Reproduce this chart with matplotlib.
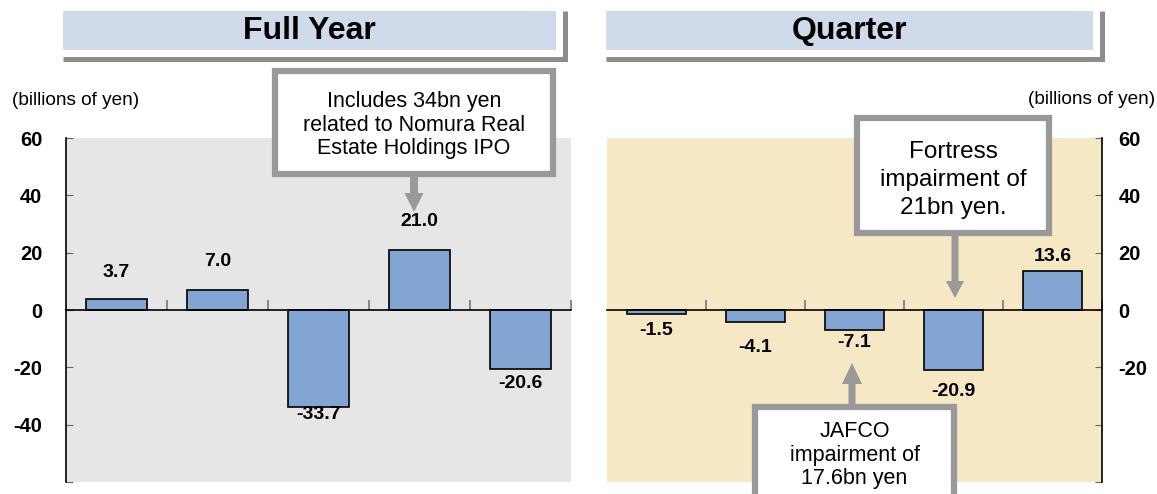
import matplotlib
matplotlib.use("Agg")
import matplotlib.pyplot as plt
from matplotlib.patches import Rectangle, FancyArrow

plt.rcParams['font.family'] = ['Liberation Sans', 'DejaVu Sans']

# data
fy_vals = [3.7, 7.0, -33.7, 21.0, -20.6]
q_vals = [-1.5, -4.1, -7.1, -20.9, 13.6]
fy_ticks = [-60, -40, -20, 0, 20, 40, 60]
fy_ticklabels = ['', '-40', '-20', '0', '20', '40', '60']
q_ticks = [-60, -40, -20, 0, 20, 40, 60]
q_ticklabels = ['', '', '-20', '0', '20', '40', '60']
unit_label = "(billions of yen)"
titles = ["Full Year", "Quarter"]
note_fy = "Includes 34bn yen\nrelated to Nomura Real\nEstate Holdings IPO"
note_fortress = "Fortress\nimpairment of\n21bn yen."
note_jafco = "JAFCO\nimpairment of\n17.6bn yen"

# label offsets in pixels from bar end (styling only)
fy_lbl_off = [27, 28, -8, 28, -14]
q_lbl_off = [-16, -26, -12, -22, 15]

BAR = '#83a5d3'
W, H = 1157, 494

fig = plt.figure(figsize=(W / 100, H / 100), dpi=100)


def px_axes(x0, y0, x1, y1):
    return fig.add_axes([x0 / W, 1 - y1 / H, (x1 - x0) / W, (y1 - y0) / H])


def draw_panel(ax, vals, offs, ticks, ticklabels, bg, side):
    ax.set_facecolor(bg)
    x = list(range(len(vals)))
    ax.bar(x, vals, width=0.6, color=BAR, edgecolor='black', linewidth=1.2, zorder=3)
    for xi, v, off in zip(x, vals, offs):
        ax.annotate(f"{v:.1f}", (xi, v), xytext=(0, off), textcoords='offset pixels',
                    ha='center', va='center', fontsize=14, fontweight='bold', zorder=4)
    ax.set_xlim(-0.5, len(vals) - 0.5)
    ax.set_ylim(-60, 60)
    ax.set_yticks(ticks)
    ax.set_yticklabels(ticklabels, fontsize=14.5, fontweight='bold')
    ax.set_xticks([i + 0.5 for i in range(len(vals))])
    ax.set_xticklabels([])
    for s in ['top', 'left', 'right']:
        ax.spines[s].set_visible(False)
    ax.spines['bottom'].set_position(('data', 0))
    ax.spines['bottom'].set_linewidth(1.2)
    ax.spines['bottom'].set_zorder(5)
    ax.spines[side].set_visible(True)
    ax.spines[side].set_linewidth(1.2)
    ax.tick_params(axis='x', direction='in', length=7, color='#777777', width=1.2)
    if side == 'left':
        ax.tick_params(axis='y', direction='in', length=5, color='#666666', pad=17)
    else:
        ax.yaxis.tick_right()
        ax.tick_params(axis='y', direction='in', length=5, color='#666666', pad=12)


ax1 = px_axes(66, 138, 571, 482)
draw_panel(ax1, fy_vals, fy_lbl_off, fy_ticks, fy_ticklabels, '#e6e6e6', 'left')
ax2 = px_axes(607, 138, 1102, 482)
draw_panel(ax2, q_vals, q_lbl_off, q_ticks, q_ticklabels, '#f6e7c5', 'right')

# overlay in pixel coordinates for headers and callouts
ov = fig.add_axes([0, 0, 1, 1])
ov.set_xlim(0, W)
ov.set_ylim(H, 0)
ov.axis('off')
ov.set_zorder(10)
ov.patch.set_alpha(0)

for (x0, x1), t in zip([(63, 556), (606, 1093)], titles):
    ov.add_patch(Rectangle((x0, 11), x1 - x0, 39, fc='#cfdbea', ec='none'))
    ov.plot([x0, x1 + 9, x1 + 9], [59.5, 59.5, 11], color='#8c8c8c', lw=3.6,
            solid_capstyle='butt', solid_joinstyle='miter')
    ov.text((x0 + x1) / 2, 31, t, ha='center', va='center', fontsize=23, fontweight='bold')

ov.text(12, 100, unit_label, ha='left', va='center', fontsize=13.7)
ov.text(1155, 99, unit_label, ha='right', va='center', fontsize=13.7)

GRAY = '#999999'


def callout(x0, y0, x1, y1, text, fs, ls, ty):
    ov.add_patch(Rectangle((x0 + 3, y0 + 3), x1 - x0 - 6, y1 - y0 - 6, fc='white', ec=GRAY, lw=4.5))
    ov.text((x0 + x1) / 2, ty, text, ha='center', va='center', fontsize=fs, linespacing=ls)


callout(272, 68, 556, 177, note_fy, 15.5, 1.17, 125)
callout(854, 115, 1052, 236, note_fortress, 17.5, 1.33, 180)
callout(752, 404, 957, 520, note_jafco, 15.5, 1.14, 455)

ov.add_patch(FancyArrow(414, 177, 0, 35, width=8, head_width=19, head_length=19,
                        length_includes_head=True, color=GRAY, lw=0))
ov.add_patch(FancyArrow(955, 236, 0, 62, width=7, head_width=18, head_length=17,
                        length_includes_head=True, color=GRAY, lw=0))
ov.add_patch(FancyArrow(852, 404, 0, -41, width=7, head_width=20, head_length=21,
                        length_includes_head=True, color=GRAY, lw=0))

fig.savefig("out.png", dpi=100)
